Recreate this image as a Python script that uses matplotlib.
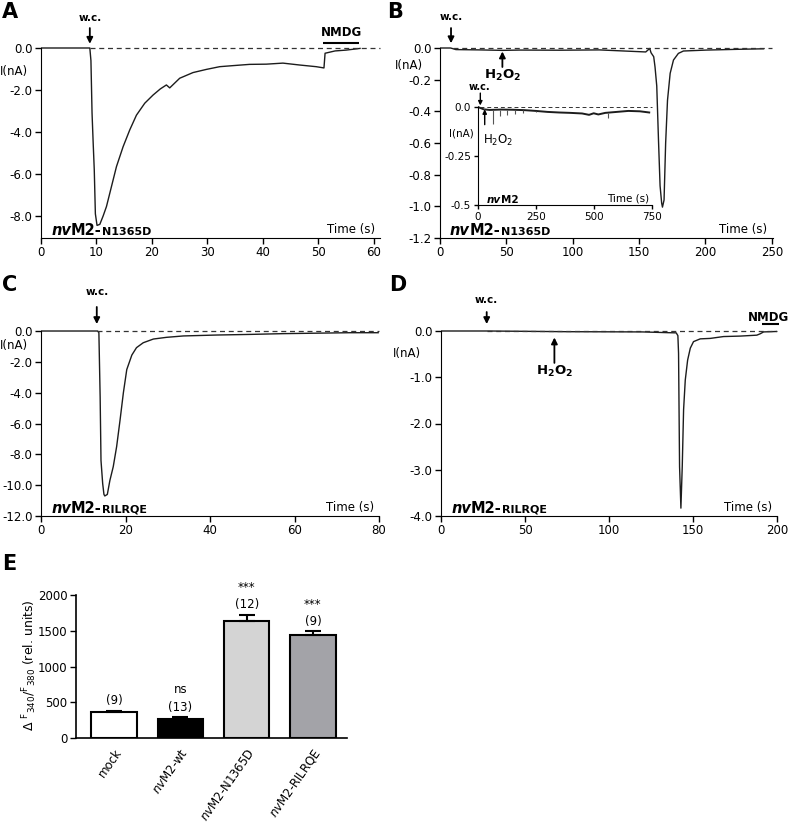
import numpy as np
import matplotlib.pyplot as plt
from matplotlib.offsetbox import TextArea, HPacker, AnnotationBbox

plt.rcParams['font.family'] = 'DejaVu Sans'
plt.rcParams['axes.unicode_minus'] = False
plt.rcParams['mathtext.fontset'] = 'dejavusans'

# ---- data ----
# A: nvM2-N1365D, 0-60 s
a_t = [0, 8.8, 9.0, 9.2, 9.4, 9.6, 9.8, 10.1, 10.6, 11.2, 11.8, 12.7, 13.6, 14.8, 16.0, 17.2,
       18.7, 20.2, 21.5, 22.6, 23.2, 25.0, 27.4, 29.8, 32.2, 34.6, 37.6, 40.6, 43.6, 46.6,
       49.6, 51.0, 51.2, 53.0, 55.0, 57.5]
a_i = [0, 0, -0.6, -3.1, -4.5, -5.8, -7.9, -8.45, -8.4, -8.0, -7.55, -6.6, -5.65, -4.7, -3.9, -3.2,
       -2.63, -2.24, -1.95, -1.76, -1.9, -1.44, -1.17, -1.02, -0.89, -0.84, -0.78, -0.77, -0.72, -0.81,
       -0.89, -0.95, -0.25, -0.14, -0.1, -0.02]
a_wc = 8.8
a_nmdg = [50.8, 57.4]

# B: nvM2-N1365D with H2O2, 0-250 s
b_t = [0, 8, 12, 30, 47, 60, 90, 120, 147, 155, 158, 159, 161, 162, 163.3, 164.6, 165.8, 167.0,
       167.6, 168.8, 170.0, 171.4, 173.4, 175.9, 179.6, 183.4, 201, 226, 243.7]
b_i = [0, 0, -0.01, -0.012, -0.015, -0.013, -0.014, -0.012, -0.022, -0.025, -0.003, -0.03, -0.055,
       -0.12, -0.24, -0.58, -0.87, -0.98, -1.005, -0.96, -0.6, -0.33, -0.16, -0.076, -0.034, -0.019,
       -0.013, -0.008, -0.005]
b_wc = 8.3
b_h2o2 = 47

# B inset: nvM2 wt, 0-750 s
ins_t = [0, 10, 25, 50, 100, 150, 200, 250, 300, 350, 400, 450, 480, 500, 520, 550, 600, 650, 700, 740]
ins_i = [0, -0.005, -0.012, -0.015, -0.013, -0.014, -0.016, -0.02, -0.025, -0.028, -0.03, -0.033,
         -0.04, -0.032, -0.038, -0.03, -0.025, -0.02, -0.022, -0.028]
spike_t = [25, 63, 95, 125, 160, 195, 250, 560]
spike_i = [-0.06, -0.085, -0.045, -0.04, -0.035, -0.03, -0.025, -0.055]
ins_wc = 10
ins_h2o2 = 29

# C: nvM2-RILRQE, 0-80 s
c_t = [0, 13.4, 13.7, 14.0, 14.2, 14.6, 14.9, 15.1, 15.7, 16.3, 17.1, 17.9, 18.7, 19.5, 20.3,
       21.5, 22.6, 24.2, 26.6, 29.7, 33.7, 41.6, 49.5, 57.4, 65.3, 73.1, 79.8]
c_i = [0, 0, -0.1, -4.3, -8.4, -9.9, -10.6, -10.7, -10.6, -9.7, -8.8, -7.5, -5.8, -4.0, -2.5,
       -1.56, -1.08, -0.76, -0.52, -0.41, -0.32, -0.26, -0.22, -0.17, -0.14, -0.11, -0.11]
c_wc = 13.2

# D: nvM2-RILRQE with H2O2, 0-200 s
d_t = [0, 28, 75, 120, 135, 140, 141.0, 141.4, 142.0, 142.8, 143.6, 144.4, 145.4, 146.8, 148.4,
       150.3, 154.3, 160.3, 168.2, 178.1, 188.0, 190.0, 192.0, 200.0]
d_i = [0, 0, -0.015, -0.02, -0.036, -0.04, -0.1, -0.48, -2.93, -3.83, -2.93, -1.7, -1.06, -0.63,
       -0.37, -0.23, -0.17, -0.16, -0.12, -0.11, -0.09, -0.06, -0.02, -0.01]
d_wc = 27.2
d_h2o2 = 67.5
d_nmdg = [191, 201]

# E: calcium imaging
e_labels = ['mock', r'$\it{nv}$M2-wt', r'$\it{nv}$M2-N1365D', r'$\it{nv}$M2-RILRQE']
e_means = [365, 270, 1640, 1435]
e_sem = [15, 22, 85, 55]
e_n = ['(9)', '(13)', '(12)', '(9)']
e_sig = ['', 'ns', '***', '***']
e_colors = ['white', 'black', '#d4d4d4', '#a3a3a8']

W, H = 788, 823
fig = plt.figure(figsize=(W / 100, H / 100), dpi=100)
trace = '#1c1c1c'


def add_ax(x0, x1, y_top, y_bot):
    return fig.add_axes([x0 / W, 1 - y_bot / H, (x1 - x0) / W, (y_bot - y_top) / H])


def ptext(px, py, s, **kw):
    fig.text(px / W, 1 - py / H, s, **kw)


def style(ax, ymin, yticks, fmt, xticks, fs=8.5, tl=4):
    for s in ['top', 'right']:
        ax.spines[s].set_visible(False)
    ax.spines['left'].set_bounds(ymin, 0)
    ax.set_yticks(yticks)
    ax.set_yticklabels([fmt % v for v in yticks])
    ax.set_xticks(xticks)
    ax.set_xticklabels([str(v) for v in xticks])
    ax.tick_params(direction='out', length=tl, width=1, labelsize=fs, pad=2)
    ax.patch.set_alpha(0)


def name_label(ax, rest, big=10.5, small=8):
    parts = [TextArea('nv', textprops=dict(style='italic', weight='bold', size=big)),
             TextArea('M2' + ('-' if rest else ''), textprops=dict(weight='bold', size=big))]
    if rest:
        parts.append(TextArea(rest, textprops=dict(weight='bold', size=small)))
    pack = HPacker(children=parts, align='baseline', pad=0, sep=0)
    ax.add_artist(AnnotationBbox(pack, (0.03, 0.0), xycoords='axes fraction',
                                 box_alignment=(0, 0), frameon=False, pad=0.1))


def time_label(ax, fs=8.5):
    ax.text(0.985, 0.012, 'Time (s)', ha='right', va='bottom', transform=ax.transAxes, fontsize=fs)


def arrow(ax, x, y_tail, y_tip, lw=1.3, ms=9):
    ax.annotate('', xy=(x, y_tip), xytext=(x, y_tail), annotation_clip=False,
                arrowprops=dict(arrowstyle='-|>', color='k', lw=lw, mutation_scale=ms,
                                shrinkA=0, shrinkB=0))


def zero_line(ax, x0, x1, lw=0.9):
    ax.hlines(0, x0, x1, colors='#333333', linestyles=(0, (4, 3)), lw=lw, clip_on=False)


# ---- A ----
ax = add_ax(41, 380, 40, 238)
ax.plot(a_t, a_i, color=trace, lw=1.0)
zero_line(ax, a_wc, 61.1)
ax.set_xlim(0, 61.1)
ax.set_ylim(-9.05, 8 / 21)
style(ax, -9.05, [0, -2, -4, -6, -8], '%.1f', range(0, 61, 10))
arrow(ax, a_wc, 0.95, 0.2)
ax.text(a_wc, 1.45, 'w.c.', ha='center', va='center', fontsize=7.5, weight='bold', clip_on=False)
ax.hlines(0.24, a_nmdg[0], a_nmdg[1], colors='k', lw=1.5, clip_on=False)
ax.text(np.mean(a_nmdg), 0.72, 'NMDG', ha='center', va='center', fontsize=8.5, weight='bold')
name_label(ax, 'N1365D')
time_label(ax)
ptext(0, 72, 'I(nA)', ha='left', va='center', fontsize=8.5)
ptext(2, 12, 'A', ha='left', va='center', fontsize=15, weight='bold')

# ---- B ----
ax = add_ax(440, 772.5, 40, 238)
ax.plot(b_t, b_i, color=trace, lw=1.0)
zero_line(ax, 10, 250)
ax.set_xlim(0, 250.5)
ax.set_ylim(-1.2, 8 / 158.3)
style(ax, -1.2, [0, -0.2, -0.4, -0.6, -0.8, -1.0, -1.2], '%.1f', range(0, 251, 50))
arrow(ax, b_wc, 0.126, 0.03)
ax.text(b_wc, 0.196, 'w.c.', ha='center', va='center', fontsize=7.5, weight='bold', clip_on=False)
arrow(ax, b_h2o2, -0.12, -0.022)
ax.text(b_h2o2, -0.125, r'$\mathbf{H_2O_2}$', ha='center', va='top', fontsize=9.5)
name_label(ax, 'N1365D')
time_label(ax)
ptext(395, 65, 'I(nA)', ha='left', va='center', fontsize=8.5)
ptext(387, 12, 'B', ha='left', va='center', fontsize=15, weight='bold')

# inset
ax = add_ax(478, 652, 100, 205)
ax.plot(ins_t, ins_i, color=trace, lw=1.4)
ax.vlines(spike_t, np.interp(spike_t, ins_t, ins_i), spike_i, colors='#555555', lw=0.8)
zero_line(ax, ins_wc, 750, lw=0.7)
ax.set_xlim(0, 752)
ax.set_ylim(-0.5, 7 / 196)
style(ax, -0.5, [0, -0.25, -0.5], '%g', [0, 250, 500, 750], fs=7.5, tl=3)
ax.set_yticklabels(['0.0', '-0.25', '-0.5'])
arrow(ax, ins_wc, 0.071, 0.008, lw=1.0, ms=6)
ax.text(ins_wc - 5, 0.1, 'w.c.', ha='center', va='center', fontsize=7, weight='bold', clip_on=False)
arrow(ax, ins_h2o2, -0.09, -0.012, lw=1.0, ms=6)
ax.text(20, -0.13, r'H$_2$O$_2$', ha='left', va='top', fontsize=8.5)
pack = HPacker(children=[TextArea('nv', textprops=dict(style='italic', weight='bold', size=7.5)),
                         TextArea('M2', textprops=dict(weight='bold', size=7.5))],
               align='baseline', pad=0, sep=0)
ax.add_artist(AnnotationBbox(pack, (0.05, 0.0), xycoords='axes fraction',
                             box_alignment=(0, 0), frameon=False, pad=0.1))
time_label(ax, fs=7.5)
ptext(449, 133, 'I(nA)', ha='left', va='center', fontsize=7.5)

# ---- C ----
ax = add_ax(41, 379, 323, 516)
ax.plot(c_t, c_i, color=trace, lw=1.0)
zero_line(ax, c_wc, 80)
ax.set_xlim(0, 80)
ax.set_ylim(-12, 0.52)
style(ax, -12, [0, -2, -4, -6, -8, -10, -12], '%.1f', range(0, 81, 20))
arrow(ax, c_wc, 1.56, 0.45)
ax.text(c_wc, 2.55, 'w.c.', ha='center', va='center', fontsize=7.5, weight='bold', clip_on=False)
name_label(ax, 'RILRQE')
time_label(ax)
ptext(0, 345, 'I(nA)', ha='left', va='center', fontsize=8.5)
ptext(2, 285, 'C', ha='left', va='center', fontsize=15, weight='bold')

# ---- D ----
ax = add_ax(441, 777, 323, 516)
ax.plot(d_t, d_i, color=trace, lw=1.0)
zero_line(ax, d_wc, 200)
ax.set_xlim(0, 200)
ax.set_ylim(-4, 8 / 46.25)
style(ax, -4, [0, -1, -2, -3, -4], '%.1f', range(0, 201, 50))
arrow(ax, d_wc, 0.41, 0.15)
ax.text(d_wc, 0.67, 'w.c.', ha='center', va='center', fontsize=7.5, weight='bold', clip_on=False)
arrow(ax, d_h2o2, -0.69, -0.14)
ax.text(d_h2o2, -0.72, r'$\mathbf{H_2O_2}$', ha='center', va='top', fontsize=9.5)
ax.hlines(0.15, d_nmdg[0], d_nmdg[1], colors='k', lw=1.5, clip_on=False)
ax.text(np.mean(d_nmdg) - 1, 0.3, 'NMDG', ha='center', va='center', fontsize=8.5, weight='bold',
        clip_on=False)
name_label(ax, 'RILRQE')
time_label(ax)
ptext(393, 353, 'I(nA)', ha='left', va='center', fontsize=8.5)
ptext(389, 285, 'D', ha='left', va='center', fontsize=15, weight='bold')

# ---- E ----
ax = add_ax(76, 347, 595, 738)
x = np.arange(len(e_means))
ax.bar(x, e_means, width=0.69, color=e_colors, edgecolor='k', lw=1.5, zorder=2)
ax.errorbar(x, e_means, yerr=[np.zeros(len(e_sem)), e_sem], fmt='none', ecolor='k',
            elinewidth=1.5, capsize=6, capthick=1.5, zorder=3)
tops = np.array(e_means) + np.array(e_sem)
for xi, top, n, sig in zip(x, tops, e_n, e_sig):
    ax.text(xi, top + 140, n, ha='center', va='center', fontsize=8.5)
    if sig:
        ax.text(xi, top + 380, sig, ha='center', va='center', fontsize=8.5, clip_on=False)
for s in ['top', 'right']:
    ax.spines[s].set_visible(False)
ax.spines['left'].set_linewidth(1.2)
ax.spines['bottom'].set_linewidth(1.2)
ax.set_xlim(-0.576, 3.515)
ax.set_ylim(0, 2000)
ax.set_yticks([0, 500, 1000, 1500, 2000])
ax.set_xticks(x)
ax.set_xticklabels(e_labels, rotation=55, ha='right', rotation_mode='anchor')
ax.tick_params(axis='y', direction='out', length=4, width=1, labelsize=8.5, pad=2)
ax.tick_params(axis='x', length=0, labelsize=8.5, pad=6)
ax.patch.set_alpha(0)
ptext(30, 665, r'$\Delta$ $\mathregular{{}^{F}{}_{340}/{}^{F}{}_{380}}$ (rel. units)',
      rotation=90, ha='center', va='center', fontsize=9)
ptext(2, 564, 'E', ha='left', va='center', fontsize=15, weight='bold')

fig.savefig('out.png', dpi=100)
